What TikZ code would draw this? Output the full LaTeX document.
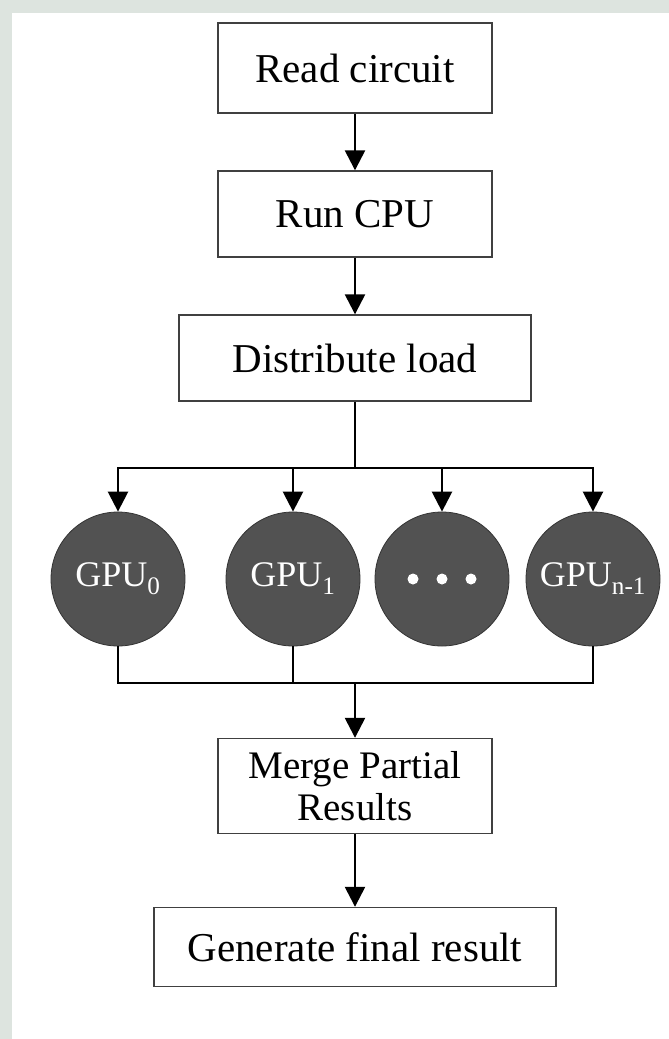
\documentclass[tikz,border=0pt]{standalone}
\usepackage{fontspec}
\setmainfont{Liberation Serif}
\usetikzlibrary{arrows.meta}
\definecolor{bggreen}{RGB}{221,228,223}
\definecolor{gpugray}{RGB}{82,82,82}
\begin{document}
\begin{tikzpicture}%
[x=1pt,y=-1pt,%
box/.style={draw=black!75, line width=1.4pt, fill=white, inner sep=0pt, minimum height=88pt, font=\fontsize{41}{44}\selectfont},%
gpu/.style={circle, draw=black!80, line width=0.8pt, fill=gpugray, text=white, minimum size=134pt, inner sep=0pt, font=\fontsize{36}{40}\selectfont},%
link/.style={line width=2.5pt},%
arr/.style={link, -{Triangle[length=20pt,width=20pt]}}]

\useasboundingbox (0,0) rectangle (669,1039);
\fill[bggreen] (0,0) rectangle (669,1039);
\fill[white] (12,13) rectangle (669,1039);

\node[box, minimum width=274pt, minimum height=90pt] (read) at (355,68) {Read circuit};
\node[box, minimum width=274pt, minimum height=86pt] (cpu) at (355,214) {Run CPU};
\node[box, minimum width=352pt, minimum height=86pt] (dist) at (355,358) {Distribute load};

\foreach \x/\name/\sub in {118/g0/0, 293/g1/1, 593/gn/{n-1}}
  \node[gpu] (\name) at (\x,579) {GPU\textsubscript{\sub}};
\node[gpu] (gdots) at (442,579) {};
\foreach \dx in {-29,0,29}
  \fill[white] ([xshift=\dx pt]gdots.center) circle (5.5);

\node[box, align=center, minimum width=274pt, minimum height=95pt, font=\fontsize{39}{42}\selectfont] (merge) at (355,786) {Merge Partial\\Results};
\node[box, minimum width=402pt, minimum height=79pt] (gen) at (355,947) {Generate final result};

\coordinate (split) at (355,468);
\coordinate (join) at (355,683);

\draw[arr] (read) -- (cpu);
\draw[arr] (cpu) -- (dist);
\draw[link] (dist) -- (split);
\draw[link, line cap=rect] (split -| g0) -- (split -| gn);
\foreach \name in {g0,g1,gdots,gn}
  \draw[arr] (split -| \name) -- (\name);
\draw[link] (g0) -- (join -| g0) -- (join -| gn) -- (gn);
\draw[link] (g1) -- (join -| g1);
\draw[arr] (join) -- (merge);
\draw[arr] (merge) -- (gen);
\end{tikzpicture}
\end{document}
